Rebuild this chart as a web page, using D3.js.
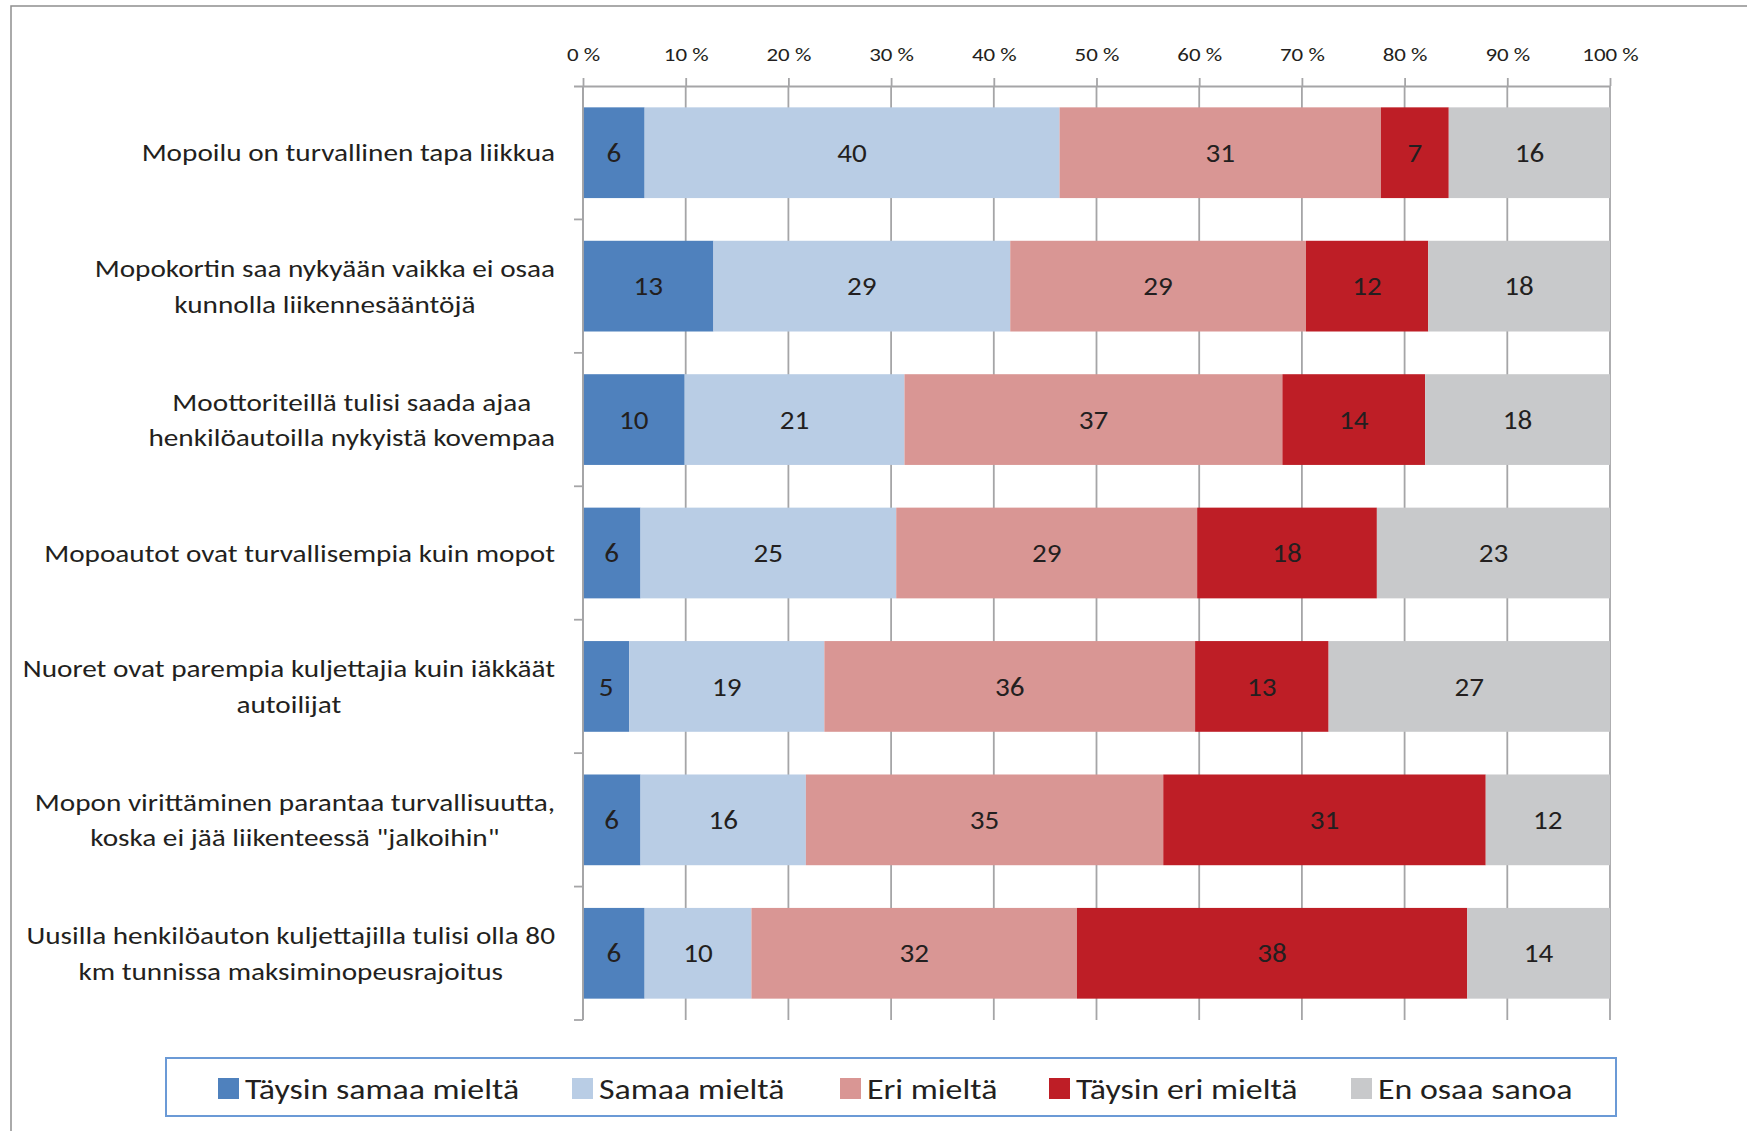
<!DOCTYPE html>
<html>
<head>
<meta charset="utf-8">
<script src="https://cdn.jsdelivr.net/npm/d3@7"></script>
<style>
  html, body { margin: 0; padding: 0; background: #ffffff; }
  svg { display: block; }
  text { font-family: Carlito, Lato, "Open Sans", sans-serif; fill: #231f20; }
</style>
</head>
<body>
<svg id="chart" width="1747" height="1131"></svg>
<script>
// ---- data ----
const categories = [
  ["Mopoilu on turvallinen tapa liikkua"],
  ["Mopokortin saa nykyään vaikka ei osaa", "kunnolla liikennesääntöjä"],
  ["Moottoriteillä tulisi saada ajaa", "henkilöautoilla nykyistä kovempaa"],
  ["Mopoautot ovat turvallisempia kuin mopot"],
  ["Nuoret ovat parempia kuljettajia kuin iäkkäät", "autoilijat"],
  ["Mopon virittäminen parantaa turvallisuutta,", "koska ei jää liikenteessä \"jalkoihin\""],
  ["Uusilla henkilöauton kuljettajilla tulisi olla 80", "km tunnissa  maksiminopeusrajoitus"]
];
const seriesNames = ["Täysin samaa mieltä", "Samaa mieltä", "Eri mieltä", "Täysin eri mieltä", "En osaa sanoa"];
const taysinSamaa = [6.0, 12.7, 9.9, 5.6, 4.5, 5.6, 6.0];
const samaa       = [40.4, 28.9, 21.4, 24.9, 19.0, 16.1, 10.4];
const eri         = [31.3, 28.8, 36.8, 29.3, 36.1, 34.8, 31.7];
const taysinEri   = [6.6, 11.9, 13.9, 17.5, 13.0, 31.4, 38.0];
const enOsaa      = [15.7, 17.7, 18.0, 22.7, 27.4, 12.1, 13.9];
const tickValues  = [0, 10, 20, 30, 40, 50, 60, 70, 80, 90, 100];
const seriesColors = ["#4f81bd", "#b9cde5", "#d99694", "#be1e26", "#c8c9cb"];

// ---- build table ----
const seriesValues = [taysinSamaa, samaa, eri, taysinEri, enOsaa];
const table = categories.map((c, i) => {
  const row = { idx: i };
  seriesNames.forEach((s, j) => { row[s] = seriesValues[j][i]; });
  return row;
});

const svg = d3.select("#chart");

// outer frame
svg.append("rect")
  .attr("x", 11).attr("y", 6).attr("width", 1800).attr("height", 1200)
  .attr("fill", "none").attr("stroke", "#8e8e8e").attr("stroke-width", 1.5);

const plot = { left: 583, right: 1610, top: 86, bottom: 1020 };

const x = d3.scaleLinear().domain([0, 100]).range([plot.left, plot.right]);
const y = d3.scaleBand().domain(d3.range(categories.length))
  .range([plot.top, plot.bottom]).paddingInner(0.32).paddingOuter(0.16);
const yEdge = d3.scaleLinear().domain([0, categories.length]).range([plot.top, plot.bottom]);

// gridlines
svg.append("g").selectAll("line").data(tickValues).join("line")
  .attr("x1", d => x(d)).attr("x2", d => x(d))
  .attr("y1", plot.top).attr("y2", plot.bottom)
  .attr("stroke", "#a5a5a7").attr("stroke-width", 1.8);

// stacked bars
const stack = d3.stack().keys(seriesNames);
const layers = stack(table);

const gBars = svg.append("g");
layers.forEach((layer, j) => {
  const g = gBars.append("g");
  g.selectAll("rect").data(layer).join("rect")
    .attr("x", d => x(d[0]))
    .attr("width", d => x(d[1]) - x(d[0]))
    .attr("y", (d, i) => y(i))
    .attr("height", y.bandwidth())
    .attr("fill", seriesColors[j]);
  g.selectAll("text").data(layer).join("text")
    .attr("transform", (d, i) => `translate(${(x(d[0]) + x(d[1])) / 2},${y(i) + y.bandwidth() / 2}) scale(1.12,1)`)
    .attr("dy", "0.35em")
    .attr("text-anchor", "middle")
    .attr("font-size", 26)
    .text(d => Math.round(d[1] - d[0]));
});

// top axis
const axisTop = d3.axisTop(x).tickValues(tickValues).tickSizeInner(8).tickSizeOuter(0)
  .tickFormat(d => d + " %");
const gAx = svg.append("g").attr("transform", `translate(0,${plot.top})`).call(axisTop);
gAx.select(".domain").attr("stroke", "#a5a5a7").attr("stroke-width", 1.8)
  .attr("d", `M${plot.left - 9},0.5H${plot.right}`);
gAx.selectAll(".tick line").attr("stroke", "#a5a5a7").attr("stroke-width", 1.8);
gAx.selectAll(".tick text")
  .attr("font-size", 18.5).attr("y", 0).attr("dy", 0)
  .attr("transform", "translate(0,-25.5) scale(1.24,1)")
  .style("font-family", "Carlito, Lato, 'Open Sans', sans-serif").attr("fill", "#231f20");

// left axis line and category separator ticks
const gLeft = svg.append("g");
gLeft.append("line")
  .attr("x1", plot.left).attr("x2", plot.left)
  .attr("y1", plot.top).attr("y2", plot.bottom)
  .attr("stroke", "#a5a5a7").attr("stroke-width", 1.8);
gLeft.selectAll("line.sep").data(d3.range(1, categories.length + 1)).join("line")
  .attr("class", "sep")
  .attr("x1", plot.left - 9).attr("x2", plot.left)
  .attr("y1", d => yEdge(d)).attr("y2", d => yEdge(d))
  .attr("stroke", "#a5a5a7").attr("stroke-width", 1.8);

// category labels (block centered, right edge aligned)
const labelRight = 555;
const labelScale = 1.17;
const lineH = 35.5;
const gLab = svg.append("g");
categories.forEach((lines, i) => {
  const cy = y(i) + y.bandwidth() / 2;
  const t = gLab.append("text").attr("font-size", 25).attr("text-anchor", "middle")
    .attr("transform", `translate(${labelRight},${cy}) scale(${labelScale},1)`);
  const spans = lines.map((ln, k) => t.append("tspan")
    .attr("y", (k - (lines.length - 1) / 2) * lineH)
    .attr("dy", "0.35em")
    .text(ln));
  const w = d3.max(spans, s => s.node().getComputedTextLength());
  spans.forEach(s => s.attr("x", -w / 2));
});

// legend
const legend = { x: 166, y: 1058, w: 1450, h: 58 };
svg.append("rect")
  .attr("x", legend.x).attr("y", legend.y).attr("width", legend.w).attr("height", legend.h)
  .attr("fill", "#ffffff").attr("stroke", "#6b9ad6").attr("stroke-width", 2);
const legendX = [218, 572, 840, 1049, 1351];
const gLeg = svg.append("g");
seriesNames.forEach((s, j) => {
  gLeg.append("rect")
    .attr("x", legendX[j]).attr("y", 1078).attr("width", 21).attr("height", 21)
    .attr("fill", seriesColors[j]);
  gLeg.append("text")
    .attr("transform", `translate(${legendX[j] + 27},1089) scale(1.21,1)`)
    .attr("dy", "0.35em")
    .attr("font-size", 28)
    .text(s);
});
</script>
</body>
</html>
